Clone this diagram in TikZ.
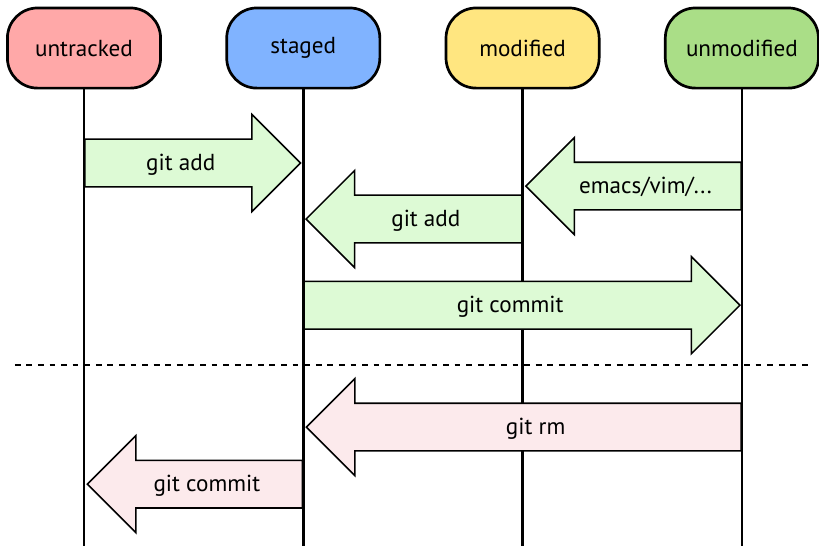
\documentclass[tikz,border=0pt]{standalone}
\usepackage{fontspec}
\setmainfont{PT Sans}
\usetikzlibrary{shapes.arrows}

\definecolor{untrackedred}{RGB}{255,168,168}
\definecolor{stagedblue}{RGB}{128,179,255}
\definecolor{modifiedyellow}{RGB}{255,230,128}
\definecolor{unmodifiedgreen}{RGB}{170,222,135}
\definecolor{addgreen}{RGB}{221,250,213}
\definecolor{rmpink}{RGB}{252,234,236}

\tikzset{
  state/.style={draw, line width=1.4pt, rounded corners=0.55cm,
    minimum width=2.79cm, minimum height=1.46cm, font=\fontsize{12}{14}\selectfont},
  lifeline/.style={line width=1.4pt},
  fatarrow/.style={single arrow, draw, line width=0.8pt, inner xsep=0pt, inner ysep=0pt,
    text height=0.55cm, text depth=0.29cm, single arrow head extend=0.45cm,
    single arrow tip angle=90, font=\fontsize{12}{14}\selectfont},
  toright/.style={fatarrow, anchor=tail},
  toleft/.style={fatarrow, anchor=tail, shape border rotate=180},
}

\begin{document}
\begin{tikzpicture}

  \useasboundingbox (0,0) rectangle (14.92,-9.95);

  % states
  \begin{scope}[every node/.style={state}]
    \node[fill=untrackedred]    (untracked)  at (1.53,-0.875)   {untracked};
    \node[fill=stagedblue]      (staged)     at (5.525,-0.875)  {staged};
    \node[fill=modifiedyellow]  (modified)   at (9.52,-0.875)   {modified};
    \node[fill=unmodifiedgreen] (unmodified) at (13.515,-0.875) {unmodified};
  \end{scope}

  % lifelines
  \foreach \s in {untracked,staged,modified,unmodified}
    \draw[lifeline] (\s.south) -- (\s.south |- 0,-9.95);

  % separator
  \draw[dashed, line width=0.6pt] (0.27,-6.65) -- (14.72,-6.65);

  % transitions
  \begin{scope}[every node/.append style={fill=addgreen}]
    \node[toright, minimum height=3.93cm] (add1)  at (untracked |- 0,-2.97)  {git add};
    \node[toleft,  minimum height=3.92cm] (edit)  at (unmodified |- 0,-3.39) {emacs/vim/...};
    \node[toleft,  minimum height=3.93cm] (add2)  at (modified |- 0,-3.99)   {git add};
    \node[toright, minimum height=7.94cm] (commit1) at (staged |- 0,-5.56)   {git commit};
  \end{scope}

  \begin{scope}[every node/.append style={fill=rmpink}]
    \node[toleft, minimum height=7.92cm] (rm)      at (unmodified |- 0,-7.78) {git rm};
    \node[toleft, minimum height=3.92cm] (commit2) at (staged |- 0,-8.82)     {git commit};
  \end{scope}

\end{tikzpicture}
\end{document}
